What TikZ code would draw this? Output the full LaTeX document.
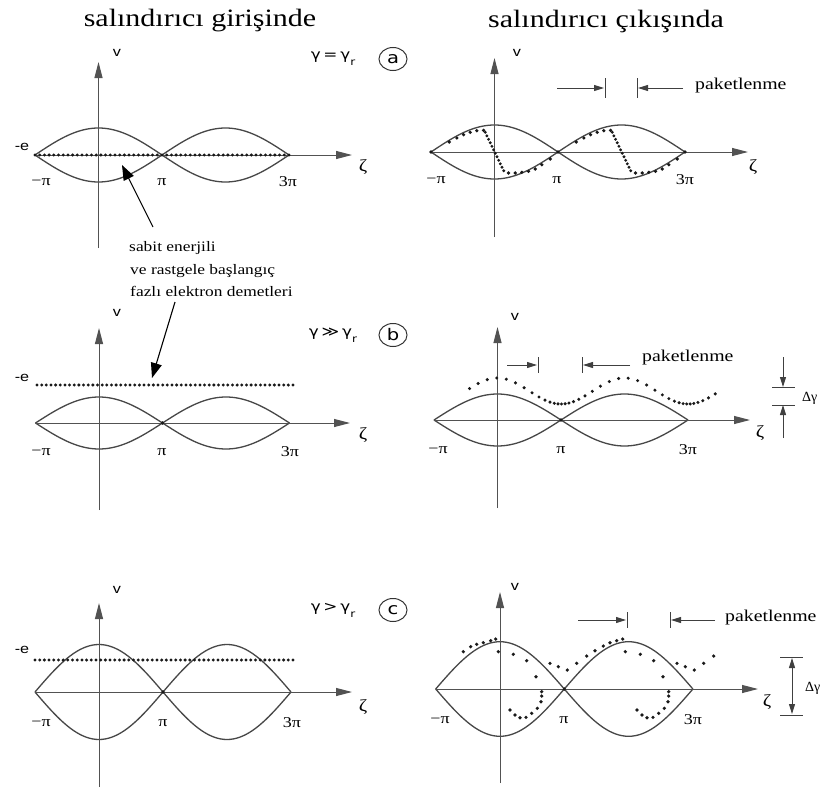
\documentclass[tikz,border=0pt]{standalone}
\usepackage{fontspec}
\setmainfont{Liberation Serif}
\newfontfamily\dvsans{DejaVu Sans}
\newfontfamily\lsans{Liberation Sans}
\usetikzlibrary{arrows.meta}
\tikzset{
  sepline/.style={draw=black!72, line width=1.3pt},
  axisline/.style={draw=black!68, line width=1pt, -{Triangle[length=16pt,width=8pt]}},
  dotf/.style={fill=black!90},
  ttl/.style={inner sep=0, xscale=1.2, font=\fontsize{25}{25}\selectfont},
  note/.style={inner sep=0, xscale=1.2, anchor=base west, font=\fontsize{14.5}{14.5}\selectfont},
  paket/.style={inner sep=0, xscale=1.2, anchor=west, font=\fontsize{16.5}{16.5}\selectfont},
  pilbl/.style={inner sep=0, xscale=1.2, font=\fontsize{15}{15}\selectfont},
  dglbl/.style={inner sep=0, anchor=west, font=\fontsize{14}{14}\selectfont},
  zlbl/.style={inner sep=0, xscale=1.2, font=\fontsize{17}{17}\selectfont},
  vlbl/.style={inner sep=0, xscale=1.2, font=\lsans\fontsize{13.5}{13.5}\selectfont},
  glbl/.style={inner sep=0, xscale=1.2, font=\dvsans\fontsize{14}{14}\selectfont},
  circl/.style={circle, draw=black!80, line width=1pt, inner sep=0, minimum size=23pt, xscale=1.22, font=\dvsans\fontsize{16}{16}\selectfont},
  pointer/.style={draw=black, line width=1.1pt, -{Triangle[length=15pt,width=11pt]}},
  pktarrow/.style={draw=black!75, line width=0.9pt, -{Triangle[length=10pt,width=6pt]}},
  dgarrow/.style={draw=black!75, line width=0.9pt, -{Triangle[length=10pt,width=6pt]}},
  bar/.style={draw=black!75, line width=1pt},
}
\newcommand\sepcurves[2]{%
  \draw[sepline] plot[domain=-#1:#1, samples=41, smooth] (\x,{#2*cos(\x/#1*90)});
  \draw[sepline] plot[domain=-#1:#1, samples=41, smooth] (\x,{-#2*cos(\x/#1*90)});
  \draw[sepline] plot[domain=#1:3*#1, samples=41, smooth] (\x,{#2*cos(\x/#1*90)});
  \draw[sepline] plot[domain=#1:3*#1, samples=41, smooth] (\x,{-#2*cos(\x/#1*90)});
}
\newcommand\edot[1]{\fill[dotf] #1 circle (1.8);}
\begin{document}
\begin{tikzpicture}[x=1pt,y=-1pt]
\useasboundingbox (0,0) rectangle (823,790);
\fill[white] (0,0) rectangle (823,790);

% titles
\node[ttl] (t1) at (200,21) {salındırıcı girişinde};
\node[ttl] (t2) at (606,21) {salındırıcı çıkışında};

% ================= panel a left
\begin{scope}[shift={(98.5,155)}, yscale=-1]
  \sepcurves{63.5}{27}
  \draw[axisline] (-63.5,0) -- (253.5,0);
  \draw[axisline] (0,-93) -- (0,93);
  \foreach \i in {0,...,54}{\fill[dotf] ({-63.5+\i*254/54},0) circle (1.65);}
\end{scope}
\node[vlbl] (va) at (117,53) {v};
\node[vlbl] (ea) at (22,147) {-e};
\node[zlbl] (za) at (363,167) {ζ};
\node[pilbl] (ma) at (41,182) {−π};
\node[pilbl] (pa) at (162,182) {π};
\node[pilbl] (ta) at (288,182) {3π};
\node[glbl] (ga) at (333,59) {γ\,=\,γ\raisebox{-6pt}{\fontsize{10}{10}\selectfont r}};
\node[circl] (ca) at (393,59) {a};

% ================= panel a right
\begin{scope}[shift={(494.5,152)}, yscale=-1]
  \sepcurves{63.5}{27}
  \draw[axisline] (-63.5,0) -- (253.5,0);
  \draw[axisline] (0,-85) -- (0,94);
  \foreach \p in {-63.5,63.5,190.5}{\edot{(\p,0)}}
  \foreach \s in {0,127}{
    \begin{scope}[shift={(\s,0)}]
      \foreach \q in {(-45.3,10),(-37.7,14),(-31,17.3),(-24.3,19.7),(-17.7,21.3),(-11,21.7),(14,-21),(20.7,-21),(27.3,-20.3),(34,-19.3),(40.7,-17),(47.3,-12.7),(55.7,-7)}{\edot{\q}}
      \foreach \k in {0,...,11}{\fill[dotf] ({-9.3+\k*18.5/11},{19.7-\k*38.5/11}) circle (1.6);}
    \end{scope}
  }
\end{scope}
\node[vlbl] (var) at (517,53) {v};
\node[zlbl] (zar) at (753,167) {ζ};
\node[pilbl] (mar) at (436,180) {−π};
\node[pilbl] (par) at (557,180) {π};
\node[pilbl] (tar) at (685,180) {3π};
\coordinate (pkA1) at (557,88);
\coordinate (pkA2) at (604,88);
\coordinate (pkA3) at (683,88);
\coordinate (pkA4) at (638,88);
\draw[pktarrow] (pkA1) -- (pkA2);
\draw[bar] (605,78) -- (605,98);
\draw[bar] (637,78) -- (637,98);
\draw[pktarrow] (pkA3) -- (pkA4);
\node[paket] (pka) at (695,86) {paketlenme};

% pointer text
\node[note] (n1) at (129,251) {sabit enerjili};
\node[note] (n2) at (130,274) {ve rastgele başlangıç};
\node[note] (n3) at (130,296) {fazlı elektron demetleri};
\coordinate (arA0) at (153,227);
\coordinate (arA1) at (122,165);
\draw[pointer] (arA0) -- (arA1);
\coordinate (arB0) at (175,302);
\coordinate (arB1) at (152,378);
\draw[pointer] (arB0) -- (arB1);

% ================= panel b left
\begin{scope}[shift={(99,423)}, yscale=-1]
  \sepcurves{63.5}{26}
  \draw[axisline] (-63.5,0) -- (251,0);
  \draw[axisline] (0,-87) -- (0,95);
  \edot{(63.5,0)}
  \foreach \i in {0,...,55}{\fill[dotf] ({-62+\i*256/55},38) circle (1.65);}
\end{scope}
\node[vlbl] (vb) at (117,313) {v};
\node[vlbl] (eb) at (22,378) {-e};
\node[zlbl] (zb) at (363,435) {ζ};
\node[pilbl] (mb) at (41,452) {−π};
\node[pilbl] (pb) at (162,452) {π};
\node[pilbl] (tb) at (290,452) {3π};
\node[glbl] (gb) at (333,335) {γ\,≫\,γ\raisebox{-6pt}{\fontsize{10}{10}\selectfont r}};
\node[circl] (cb) at (393,335) {b};

% ================= panel b right
\begin{scope}[shift={(497.5,420)}, yscale=-1]
  \sepcurves{63.5}{26}
  \draw[axisline] (-63.5,0) -- (252.5,0);
  \draw[axisline] (0,-88) -- (0,93);
  \edot{(63.5,0)}
  \foreach \k in {0,...,38}{
    \pgfmathsetmacro\ss{-20+6.5*\k}
    \pgfmathsetmacro\XX{\ss+9.5*sin(\ss/127*360)}
    \pgfmathsetmacro\YY{29+13*cos(\XX/127*360)}
    \fill[dotf] (\XX,\YY) circle (1.7);
  }
\end{scope}
\node[vlbl] (vbr) at (515,317) {v};
\node[zlbl] (zbr) at (760,433) {ζ};
\node[pilbl] (mbr) at (438,450) {−π};
\node[pilbl] (pbr) at (561,450) {π};
\node[pilbl] (tbr) at (688,450) {3π};
\coordinate (pkB1) at (507,365);
\coordinate (pkB2) at (537,365);
\coordinate (pkB3) at (630,365);
\coordinate (pkB4) at (583,365);
\draw[pktarrow] (pkB1) -- (pkB2);
\draw[bar] (538,357) -- (538,373);
\draw[bar] (582,357) -- (582,373);
\draw[pktarrow] (pkB3) -- (pkB4);
\node[paket] (pkb) at (642,358) {paketlenme};
\coordinate (dgB1) at (783,357);
\coordinate (dgB2) at (783,387);
\coordinate (dgB3) at (783,438);
\coordinate (dgB4) at (783,405);
\draw[dgarrow] (dgB1) -- (dgB2);
\draw[bar] (772,387) -- (795,387);
\draw[bar] (772,405) -- (795,405);
\draw[dgarrow] (dgB3) -- (dgB4);
\node[dglbl] (dgb) at (802,398) {Δγ};

% ================= panel c left
\begin{scope}[shift={(99,692)}, yscale=-1]
  \sepcurves{64}{47.5}
  \draw[axisline] (-64,0) -- (253,0);
  \draw[axisline] (0,-95) -- (0,89);
  \edot{(64,0)}
  \foreach \i in {0,...,55}{\fill[dotf] ({-64+\i*258/55},32) circle (1.65);}
\end{scope}
\node[vlbl] (vc) at (117,590) {v};
\node[vlbl] (ec) at (22,650) {-e};
\node[zlbl] (zc) at (363,707) {ζ};
\node[pilbl] (mc) at (41,723) {−π};
\node[pilbl] (pc) at (163,723) {π};
\node[pilbl] (tc) at (292,723) {3π};
\node[glbl] (gc) at (333,610) {γ\,>\,γ\raisebox{-6pt}{\fontsize{10}{10}\selectfont r}};
\node[circl] (cc) at (393,610) {c};

% ================= panel c right
\begin{scope}[shift={(500,689)}, yscale=-1]
  \sepcurves{64.3}{47.3}
  \draw[axisline] (-64.3,0) -- (258,0);
  \draw[axisline] (0,-94) -- (0,97);
  \edot{(64.3,0)}
  \foreach \q in {(-36.7,37.3),(-29.3,42.3),(-23.3,44.7),(-16.7,46.3),(-9.3,48.3),(-4.3,50),(95,38.3),(103.3,43),(110,46.3),(116.7,48.3),(122.7,50)}{\edot{\q}}
  \foreach \s in {0,127}{
    \begin{scope}[shift={(\s,0)}]
      \foreach \q in {(-1.7,37.3),(13.3,34.7),(26.7,28.3),(36,12.3),(41.7,-2.7),(41.7,-7),(41,-12.7),(37.3,-19.3),(31.7,-24.3),(26,-28.3),(20,-28.7),(15,-26),(10,-21),(50,25.7),(58.3,22.3),(67.3,19),(76.7,25.7),(86.7,33)}{\edot{\q}}
    \end{scope}
  }
\end{scope}
\node[vlbl] (vcr) at (515,587) {v};
\node[zlbl] (zcr) at (767,702) {ζ};
\node[pilbl] (mcr) at (440,720) {−π};
\node[pilbl] (pcr) at (564,720) {π};
\node[pilbl] (tcr) at (693,720) {3π};
\coordinate (pkC1) at (578,620);
\coordinate (pkC2) at (626,620);
\coordinate (pkC3) at (715,620);
\coordinate (pkC4) at (671,620);
\draw[pktarrow] (pkC1) -- (pkC2);
\draw[bar] (627,612) -- (627,628);
\draw[bar] (670,612) -- (670,628);
\draw[pktarrow] (pkC3) -- (pkC4);
\node[paket] (pkc) at (725,618) {paketlenme};
\coordinate (dgC1) at (792,658);
\coordinate (dgC2) at (792,714);
\draw[bar] (780,657) -- (803,657);
\draw[bar] (780,715) -- (803,715);
\draw[dgarrow, {Triangle[length=10pt,width=6pt]}-{Triangle[length=10pt,width=6pt]}] (dgC1) -- (dgC2);
\node[dglbl] (dgc) at (805,688) {Δγ};
\end{tikzpicture}
\end{document}
